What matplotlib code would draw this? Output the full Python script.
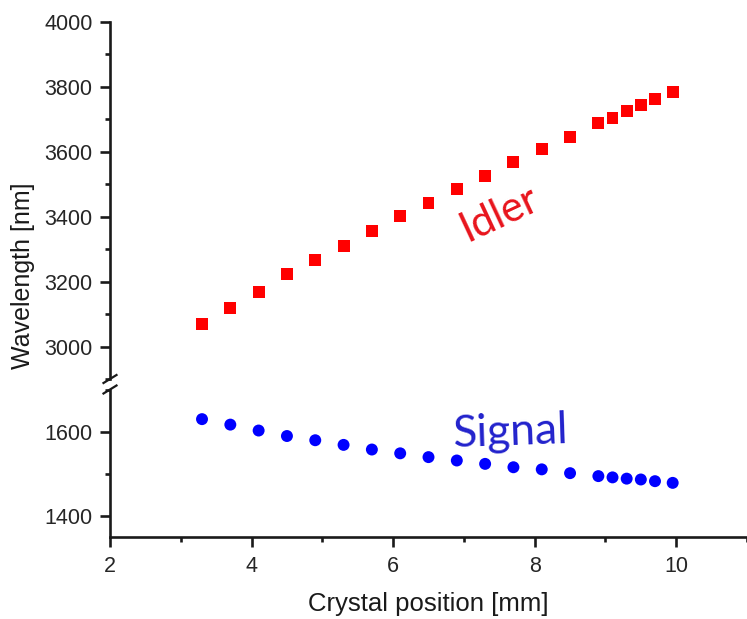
import matplotlib
matplotlib.use("Agg")
import matplotlib.pyplot as plt
from matplotlib.lines import Line2D
from matplotlib.ticker import MultipleLocator

# Crystal position [mm]
position = [3.3, 3.7, 4.1, 4.5, 4.9, 5.3, 5.7, 6.1, 6.5, 6.9,
            7.3, 7.7, 8.1, 8.5, 8.9, 9.1, 9.3, 9.5, 9.7, 9.95]
# Idler wavelength [nm]
idler = [3070, 3120, 3167, 3223, 3266, 3310, 3357, 3401, 3441, 3484,
         3525, 3567, 3607, 3646, 3687, 3703, 3726, 3743, 3762, 3785]
# Signal wavelength [nm]
signal = [1630, 1617, 1603, 1590, 1580, 1569, 1558, 1549, 1540, 1532,
          1524, 1516, 1511, 1502, 1495, 1492, 1489, 1487, 1483, 1479]

x_ticks = [2, 4, 6, 8, 10]
top_ticks = [3000, 3200, 3400, 3600, 3800, 4000]
bottom_ticks = [1400, 1600]

W, H = 747, 619
fig = plt.figure(figsize=(W / 100, H / 100), dpi=100)
plt.rcParams['font.family'] = ['Liberation Sans', 'DejaVu Sans']

def fx(px):
    return px / W

def fy(py):
    return 1 - py / H

left = fx(110)
width = 1.0 - left
ax_top = fig.add_axes([left, fy(379.2), width, fy(21.7) - fy(379.2)])
ax_bot = fig.add_axes([left, fy(537.3), width, fy(389.6) - fy(537.3)])

lw = 1.9
tick_color = '#1a1a1a'
label_color = '#262626'

for ax in (ax_top, ax_bot):
    ax.set_xlim(2, 11)
    for s in ('top', 'right'):
        ax.spines[s].set_visible(False)
    ax.spines['left'].set_linewidth(lw)
    ax.spines['bottom'].set_linewidth(lw)
    ax.spines['left'].set_color(tick_color)
    ax.spines['bottom'].set_color(tick_color)
    ax.tick_params(axis='both', which='major', direction='out', length=7,
                   width=lw, color=tick_color, labelsize=15.5,
                   labelcolor=label_color, pad=5.5)
    ax.tick_params(axis='both', which='minor', direction='out', length=3.8,
                   width=lw, color=tick_color)
ax_bot.tick_params(axis='x', which='major', pad=6.5)

# Upper panel: idler
ax_top.set_ylim(2900, 4000)
ax_top.set_yticks(top_ticks)
ax_top.yaxis.set_minor_locator(MultipleLocator(100))
ax_top.spines['bottom'].set_visible(False)
ax_top.tick_params(axis='x', which='both', bottom=False, labelbottom=False)
ax_top.scatter(position, idler, marker='s', s=8.6 ** 2, color='#ff0000',
               edgecolors='none', zorder=3)
ax_top.text(7.5, 3408, 'Idler', color='#e8141c', fontsize=30,
            family=['Lato', 'DejaVu Sans'], rotation=25,
            ha='center', va='center')

# Lower panel: signal
ax_bot.set_ylim(1350, 1700)
ax_bot.set_yticks(bottom_ticks)
ax_bot.yaxis.set_minor_locator(MultipleLocator(100))
ax_bot.set_xticks(x_ticks)
ax_bot.xaxis.set_minor_locator(MultipleLocator(1))
ax_bot.scatter(position, signal, marker='o', s=8.6 ** 2, color='#0000ff',
               edgecolors='none', zorder=3)
ax_bot.text(7.66, 1598, 'Signal', color='#2222cc', fontsize=32,
            family=['Lato', 'DejaVu Sans'], rotation=2,
            ha='center', va='center')

fig.text(fx(428.5), fy(604), 'Crystal position [mm]', fontsize=18.5,
         color='#1a1a1a', ha='center', va='center')
fig.text(fx(23), fy(276), 'Wavelength [nm]', rotation=90, fontsize=18,
         color='#1a1a1a', ha='center', va='center')

# Axis-break marks on the left spine
for yc in (379.0, 389.5):
    fig.add_artist(Line2D([fx(103.5), fx(116.5)], [fy(yc + 4), fy(yc - 4)],
                          transform=fig.transFigure, color=tick_color,
                          linewidth=1.6, clip_on=False))

fig.savefig('out.png', dpi=100)
